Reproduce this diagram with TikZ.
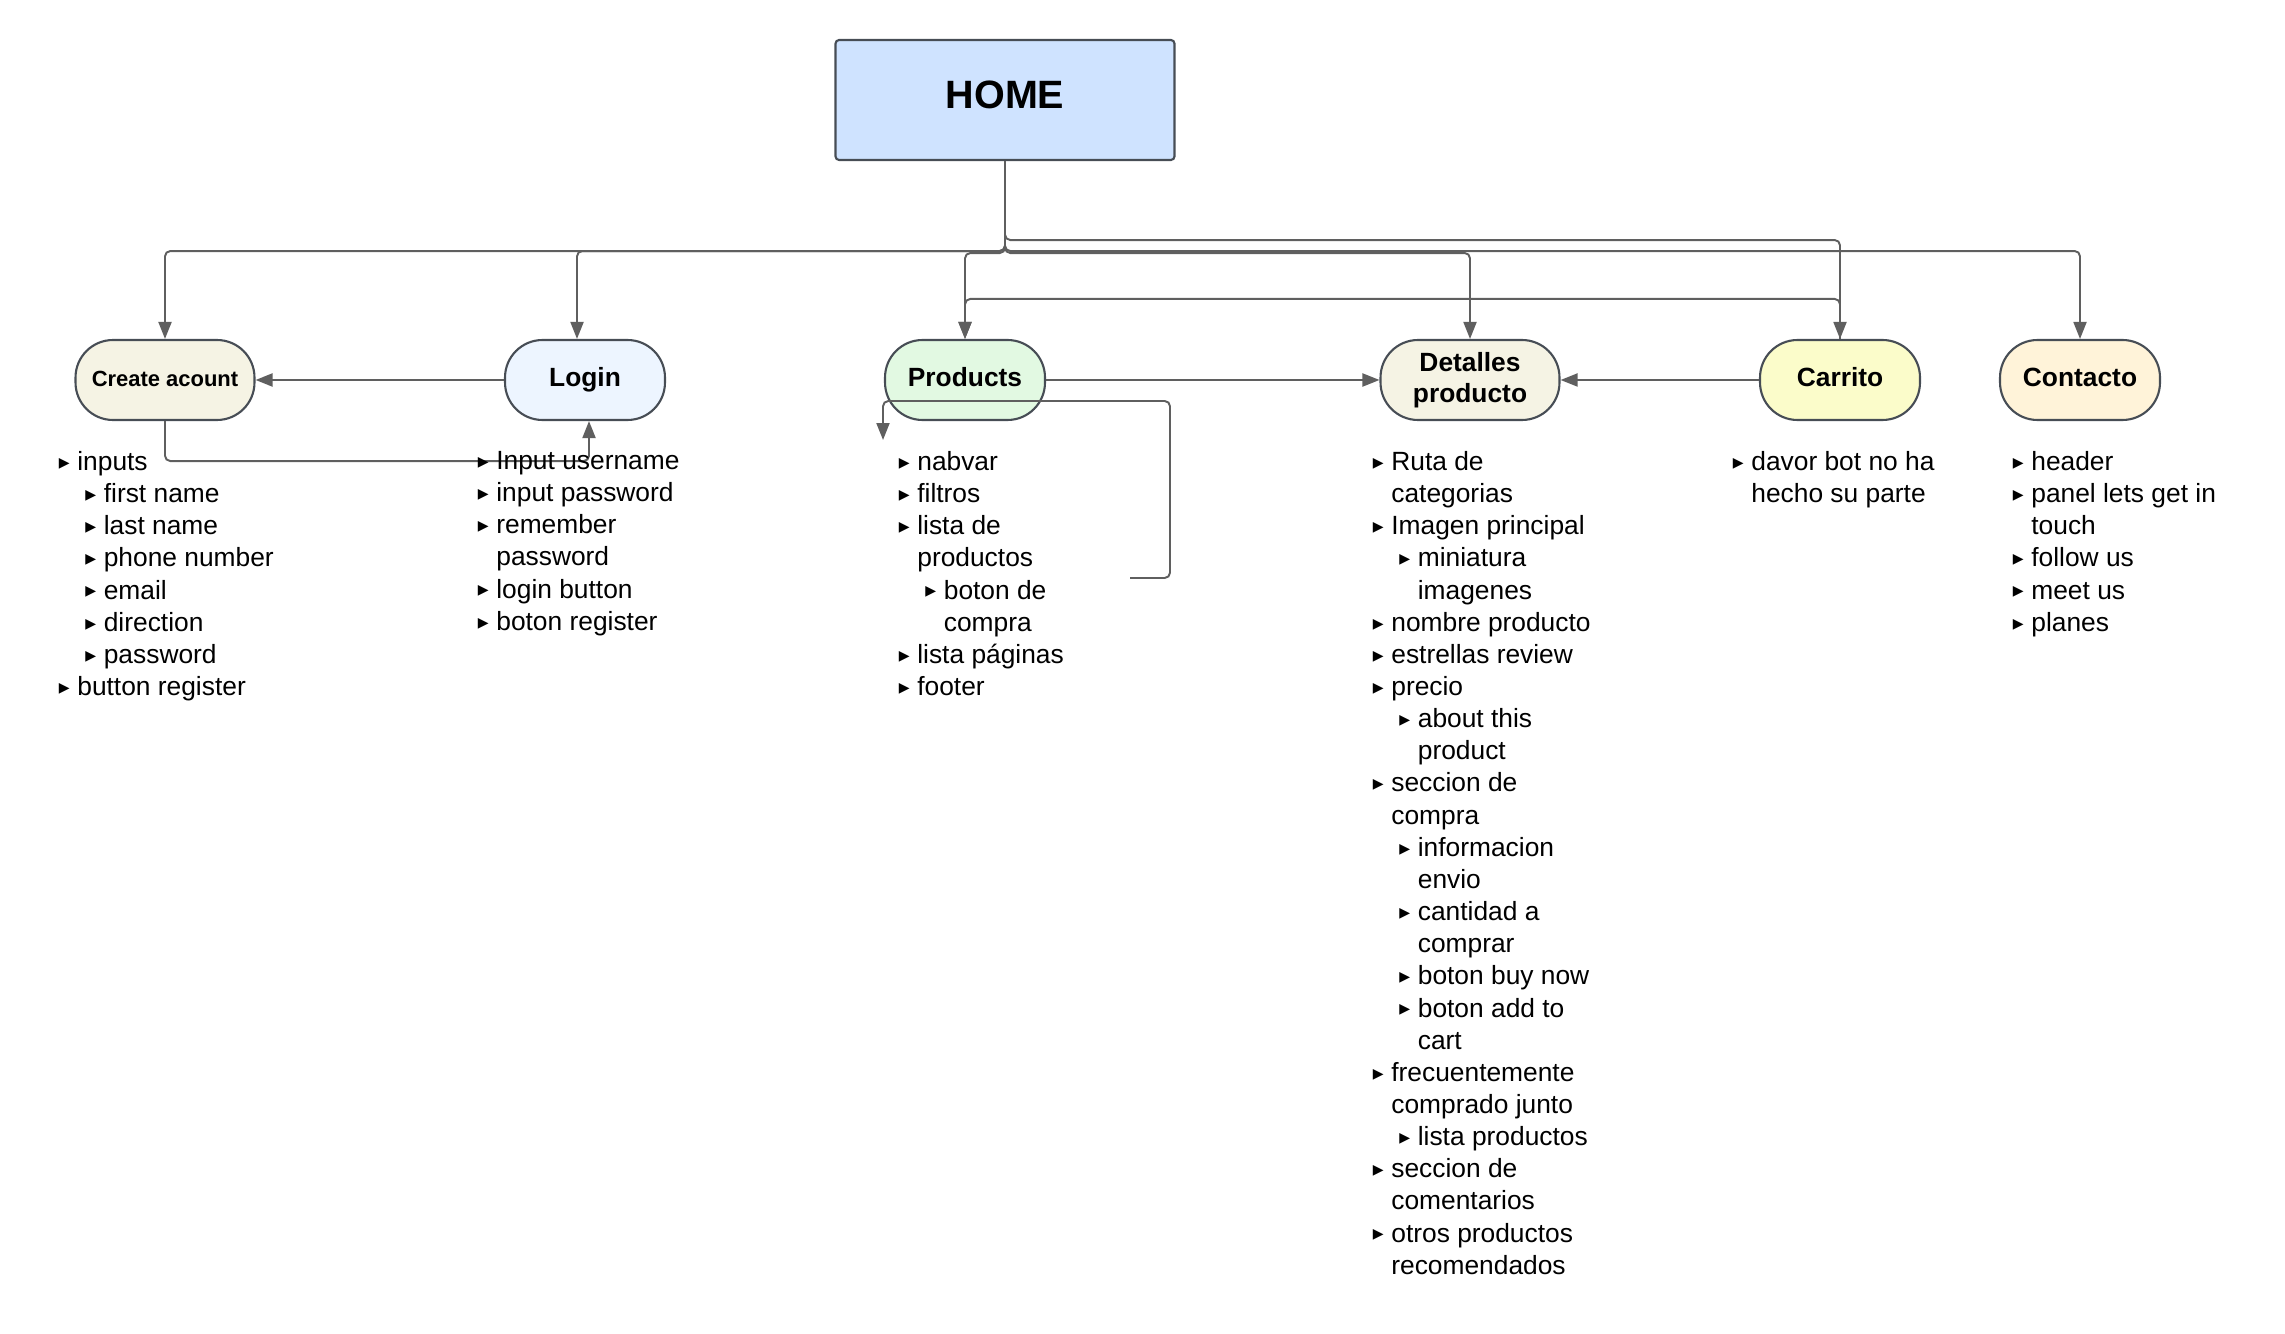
\documentclass[tikz,border=0pt]{standalone}
\usepackage{fontspec}
\setmainfont{Liberation Sans}
\newfontfamily\symfont{DejaVu Sans}
\usetikzlibrary{arrows.meta}
\definecolor{linegray}{HTML}{5F5F5F}
\definecolor{edgegray}{HTML}{474D55}
\definecolor{homefill}{HTML}{CFE3FF}
\definecolor{beigefill}{HTML}{F5F3E4}
\definecolor{loginfill}{HTML}{EDF5FF}
\definecolor{prodfill}{HTML}{E2F9E2}
\definecolor{cartfill}{HTML}{FBFCCA}
\definecolor{contactfill}{HTML}{FFF3D9}
\newcommand\tri{\hspace*{-0.07cm}\raisebox{1.8pt}{\symfont\fontsize{8}{8}\selectfont ▶}}
\newcommand\lvlA[1]{\makebox[0.3cm][l]{\tri}#1}
\newcommand\lvlB[1]{\hspace*{0.53cm}\makebox[0.3cm][l]{\tri}#1}
\newcommand\contA[1]{\hspace*{0.3cm}#1}
\newcommand\contB[1]{\hspace*{0.83cm}#1}
\tikzset{
  conn/.style={draw=linegray,line width=1.1pt,rounded corners=3pt,
    -{Triangle[length=0.34cm,width=0.26cm]}},
  pill/.style={draw=edgegray,line width=1.2pt,rounded corners=0.75cm,
    minimum width=3.2cm,minimum height=1.6cm,inner sep=0pt,align=center,
    font=\bfseries\fontsize{15}{17.5}\selectfont},
  oneline/.style={text height=10.7pt,text depth=3.2pt},
  lst/.style={anchor=north west,inner sep=0pt,align=left,
    font=\fontsize{15}{18.3}\selectfont},
}
\begin{document}
\begin{tikzpicture}[x=0.02cm,y=-0.02cm]
  \useasboundingbox (0,0) rectangle (2285,1334);
  \node[draw=edgegray,line width=1.2pt,rounded corners=2pt,fill=homefill,
    minimum width=6.78cm,minimum height=2.4cm,text height=16.1pt,text depth=6.8pt,
    font=\bfseries\fontsize{22.5}{26}\selectfont] (home) at (1005,100) {HOME};
  \node[pill,oneline,fill=beigefill,minimum width=3.58cm,
    font=\bfseries\fontsize{12.5}{15}\selectfont] (acct) at (165,380) {Create acount};
  \node[pill,oneline,fill=loginfill] (login) at (585,380) {Login};
  \node[pill,oneline,fill=prodfill] (prods) at (965,380) {Products};
  \node[pill,fill=beigefill,minimum width=3.58cm] (detail) at (1470,380) {Detalles\\producto};
  \node[pill,oneline,fill=cartfill] (cart) at (1840,380) {Carrito};
  \node[pill,oneline,fill=contactfill] (contact) at (2080,380) {Contacto};

  \draw[conn] (home.south) -- ++(0,90) -| (acct.north);
  \draw[conn] (home.south) -- ++(0,90) -| ([xshift=-0.16cm]login.north);
  \draw[conn] (home.south) -- ++(0,90) -| (contact.north);
  \draw[conn] (home.south) -- ++(0,92) -| (prods.north);
  \draw[conn] (home.south) -- ++(0,92) -| (detail.north);
  \draw[conn] (home.south) -- ++(0,79) -| (cart.north);
  \draw[conn] (cart.north) -- ++(0,-40) -| (prods.north);
  \draw[conn] (login.west) -- (acct.east);
  \draw[conn] (prods.east) -- (detail.west);
  \draw[conn] (cart.west) -- (detail.east);
  \draw[conn] (acct.south) -- ++(0,40) -| ([xshift=0.08cm]login.south);
  \coordinate (loopend) at (1130,578);
  \coordinate (looptip) at (883,440);
  \draw[conn] (loopend) -- ++(40,0) -- ++(0,-177) -| (looptip);

  \node[lst] (acctlist) at (62,451) {\lvlA{inputs}\\ \lvlB{first name}\\ \lvlB{last name}\\
    \lvlB{phone number}\\ \lvlB{email}\\ \lvlB{direction}\\ \lvlB{password}\\
    \lvlA{button register}};
  \node[lst] (loginlist) at (481,451) {\lvlA{Input username}\\ \lvlA{input password}\\
    \lvlA{remember}\\ \contA{password}\\ \lvlA{login button}\\ \lvlA{boton register}};
  \node[lst] (prodlist) at (902,451) {\lvlA{nabvar}\\ \lvlA{filtros}\\ \lvlA{lista de}\\
    \contA{productos}\\ \lvlB{boton de}\\ \contB{compra}\\ \lvlA{lista páginas}\\ \lvlA{footer}};
  \node[lst] (detaillist) at (1376,451) {\lvlA{Ruta de}\\ \contA{categorias}\\
    \lvlA{Imagen principal}\\ \lvlB{miniatura}\\ \contB{imagenes}\\ \lvlA{nombre producto}\\
    \lvlA{estrellas review}\\ \lvlA{precio}\\ \lvlB{about this}\\ \contB{product}\\
    \lvlA{seccion de}\\ \contA{compra}\\ \lvlB{informacion}\\ \contB{envio}\\
    \lvlB{cantidad a}\\ \contB{comprar}\\ \lvlB{boton buy now}\\ \lvlB{boton add to}\\
    \contB{cart}\\ \lvlA{frecuentemente}\\ \contA{comprado junto}\\ \lvlB{lista productos}\\
    \lvlA{seccion de}\\ \contA{comentarios}\\ \lvlA{otros productos}\\ \contA{recomendados}};
  \node[lst] (cartlist) at (1736,451) {\lvlA{davor bot no ha}\\ \contA{hecho su parte}};
  \node[lst] (contactlist) at (2016,451) {\lvlA{header}\\ \lvlA{panel lets get in}\\
    \contA{touch}\\ \lvlA{follow us}\\ \lvlA{meet us}\\ \lvlA{planes}};
\end{tikzpicture}
\end{document}
